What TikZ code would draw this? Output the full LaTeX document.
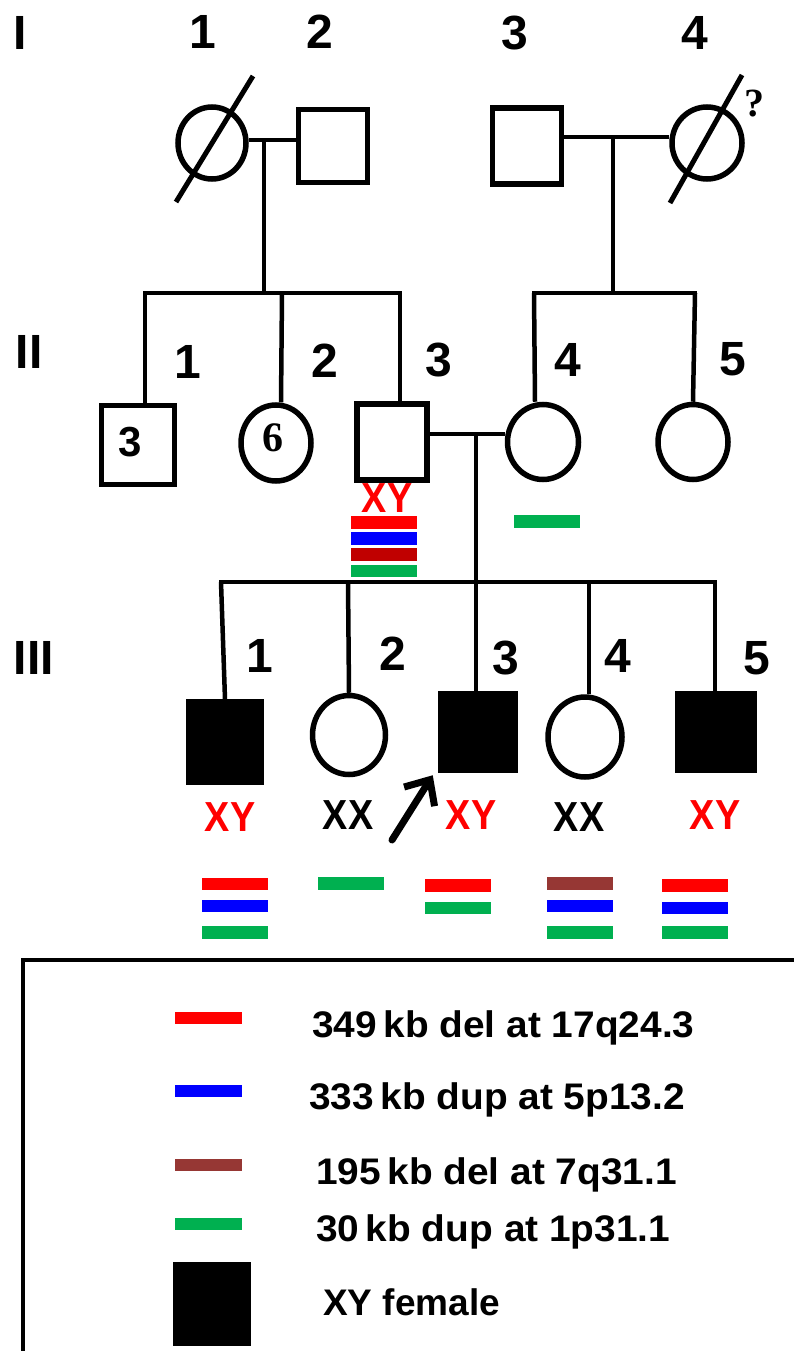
\documentclass[tikz,border=0pt]{standalone}
\usepackage{fontspec}
\setmainfont{Liberation Sans}
\newfontfamily\serifbold{Liberation Serif}
\usetikzlibrary{shapes.geometric,arrows.meta,calc}
\definecolor{cred}{RGB}{255,0,0}
\definecolor{cblue}{RGB}{0,0,255}
\definecolor{cdarkred}{RGB}{192,0,0}
\definecolor{cbrown}{RGB}{150,55,52}
\definecolor{cgreen}{RGB}{0,176,80}
\tikzset{
  pline/.style={line width=4.5pt},
  male/.style={draw, rectangle, line width=5.5pt, inner sep=0pt},
  female/.style={draw, ellipse, line width=5.5pt, inner sep=0pt},
  aff/.style={fill=black},
  num/.style={font=\fontsize{48}{50}\selectfont\bfseries, inner sep=0pt},
  kary/.style={font=\fontsize{42}{44}\selectfont\bfseries, inner sep=0pt},
  cnvbar/.style={draw=none, rectangle, minimum width=66pt, minimum height=12.5pt, inner sep=0pt},
  legtxt/.style={font=\fontsize{37}{40}\selectfont\bfseries, inner sep=0pt, anchor=base west},
  inlbl/.style={font=\fontsize{42}{44}\selectfont\bfseries, inner sep=0pt},
}
\newcommand{\kxy}[1]{\scalebox{0.9}[1]{#1}}
\newcommand{\lgw}[1]{\scalebox{1.05}[1]{#1}}
\begin{document}
\begin{tikzpicture}[x=1pt,y=-1pt]
\useasboundingbox (0,0) rectangle (794,1351);

% generation labels
\node[num] (gI) at (20,33) {I};
\node[num] (gII) at (29,352) {II};
\node[num] (gIII) at (34,658) {III};

% ---------- Generation I ----------
\node[female, minimum width=68pt, minimum height=72pt] (I1) at (212,143) {};
\node[male, minimum width=69pt, minimum height=73pt] (I2) at (333,146) {};
\node[male, minimum width=69pt, minimum height=76pt] (I3) at (527,146) {};
\node[female, minimum width=70pt, minimum height=72pt] (I4) at (707,143) {};
\draw[line width=5pt] ($(I1)+(-36,59)$) -- ($(I1)+(41,-67)$);
\draw[line width=5pt] ($(I4)+(-37,60)$) -- ($(I4)+(35,-68)$);
\node[font=\fontsize{40}{42}\selectfont\bfseries\serifbold, inner sep=0pt] (q4) at (754,104) {?};

\node[num] (nI1) at (203,32) {1};
\node[num] (nI2) at (320,32) {2};
\node[num] (nI3) at (515,33) {3};
\node[num] (nI4) at (695,33) {4};

% marriages gen I
\draw[pline] ([yshift=3pt]I1.east) -- ([yshift=3pt]I1.east -| I2.west);
\draw[pline] ([yshift=6pt]I4.west) -- ([yshift=6pt]I4.west -| I3.east);
\coordinate (m1) at (264,140);
\coordinate (s1) at (264,293);
\coordinate (m2) at (613,137);
\coordinate (s2) at (613,293);
\draw[pline] (m1) -- (s1);
\draw[pline] (m2) -- (s2);
\coordinate (s1L) at (145,293);
\coordinate (s1R) at (400,293);
\coordinate (s1M) at (282,293);
\coordinate (s2L) at (534,293);
\coordinate (s2R) at (695,293);
\draw[pline] ([xshift=-2pt]s1L) -- ([xshift=2pt]s1R);
\draw[pline] ([xshift=-2pt]s2L) -- ([xshift=2pt]s2R);

% ---------- Generation II ----------
\node[male, minimum width=73pt, minimum height=79pt] (II1) at (138,445) {};
\node[female, minimum width=70pt, minimum height=76pt] (II2) at (276,443) {};
\node[male, minimum width=70pt, minimum height=76pt] (II3) at (392,442) {};
\node[female, minimum width=71pt, minimum height=75pt] (II4) at (543,442) {};
\node[female, minimum width=70pt, minimum height=75pt] (II5) at (693,442) {};
\node[inlbl] (t3) at (130,442) {3};
\node[inlbl, font=\fontsize{42}{44}\selectfont\bfseries\serifbold] (t6) at (273,438) {6};

\draw[pline] (s1L) -- ([xshift=7pt]II1.north);
\draw[pline] (s1M) -- ([xshift=5pt]II2.north);
\draw[pline] (s1R) -- ([xshift=8pt]II3.north);
\draw[pline] (s2L) -- ([xshift=-8pt]II4.north);
\draw[pline] (s2R) -- (II5.north);

\node[num] (nII1) at (188,362) {1};
\node[num] (nII2) at (325,361) {2};
\node[num] (nII3) at (439,360) {3};
\node[num] (nII4) at (568,360) {4};
\node[num] (nII5) at (733,359) {5};

\draw[pline] ([yshift=8pt]II3.east) -- ([yshift=8pt]II3.east -| II4.west);
\coordinate (m3) at (476,434);
\coordinate (s3) at (476,582);
\draw[pline] (m3) -- (s3);

\node[kary, text=cred] (kII3) at (387,498) {\kxy{XY}};
\node[cnvbar, fill=cred] (bII3a) at (384,522.5) {};
\node[cnvbar, fill=cblue] (bII3b) at (384,538.5) {};
\node[cnvbar, fill=cdarkred] (bII3c) at (384,554.5) {};
\node[cnvbar, fill=cgreen] (bII3d) at (384,571) {};
\node[cnvbar, fill=cgreen] (bII4a) at (547,521.5) {};

% ---------- Generation III ----------
\coordinate (s3L) at (221,582);
\coordinate (s3B) at (348,582);
\coordinate (s3D) at (589,582);
\coordinate (s3R) at (715,582);
\draw[pline] ([xshift=-2pt]s3L) -- ([xshift=2pt]s3R);

\node[male, aff, minimum width=73pt, minimum height=80pt] (III1) at (225,742) {};
\node[female, minimum width=73pt, minimum height=79pt] (III2) at (349,735) {};
\node[male, aff, minimum width=75pt, minimum height=77pt] (III3) at (478,732) {};
\node[female, minimum width=74pt, minimum height=80pt] (III4) at (585,737) {};
\node[male, aff, minimum width=76pt, minimum height=77pt] (III5) at (716,732) {};

\draw[pline] (s3L) -- (III1.north);
\draw[pline] (s3B) -- (III2.north);
\draw[pline] (s3) -- ([xshift=-2pt]III3.north);
\draw[pline] (s3D) -- ([xshift=4pt]III4.north);
\draw[pline] (s3R) -- ([xshift=-1pt]III5.north);

\node[num] (nIII1) at (260,656) {1};
\node[num] (nIII2) at (393,654) {2};
\node[num] (nIII3) at (506,658) {3};
\node[num] (nIII4) at (618,656) {4};
\node[num] (nIII5) at (757,658) {5};

\node[kary, text=cred] (kIII1) at (230,817) {\kxy{XY}};
\node[kary] (kIII2) at (348,815) {\kxy{XX}};
\node[kary, text=cred] (kIII3) at (471,815) {\kxy{XY}};
\node[kary] (kIII4) at (579,817) {\kxy{XX}};
\node[kary, text=cred] (kIII5) at (715,815) {\kxy{XY}};

% proband arrow
\coordinate (atip) at ([xshift=-5pt,yshift=-2pt]III3.south west);
\coordinate (atail) at (392,840);
\draw[line width=7pt, line cap=round, -{Straight Barb[length=20pt,width=36pt,line cap=butt]}] (atail) -- (atip);

% CNV bars gen III
\node[cnvbar, fill=cred] (b11) at (235,884) {};
\node[cnvbar, fill=cblue] (b12) at (235,906) {};
\node[cnvbar, fill=cgreen] (b13) at (235,932.5) {};
\node[cnvbar, fill=cgreen] (b21) at (351,883.5) {};
\node[cnvbar, fill=cred] (b31) at (458,885.5) {};
\node[cnvbar, fill=cgreen] (b32) at (458,908) {};
\node[cnvbar, fill=cbrown] (b41) at (580,883.5) {};
\node[cnvbar, fill=cblue] (b42) at (580,906) {};
\node[cnvbar, fill=cgreen] (b43) at (580,932.5) {};
\node[cnvbar, fill=cred] (b51) at (695,885.5) {};
\node[cnvbar, fill=cblue] (b52) at (695,908) {};
\node[cnvbar, fill=cgreen] (b53) at (695,932.5) {};

% ---------- Legend ----------
\draw[line width=3.5pt] (794,960) -| (23,1351);
\node[cnvbar, minimum width=67pt, fill=cred] (L1) at (208.5,1018) {};
\node[cnvbar, minimum width=67pt, fill=cblue] (L2) at (208.5,1091) {};
\node[cnvbar, minimum width=67pt, fill=cbrown] (L3) at (208.5,1165) {};
\node[cnvbar, minimum width=67pt, fill=cgreen] (L4) at (208.5,1224) {};
\node[draw=none, fill=black, minimum width=78pt, minimum height=84pt, inner sep=0pt] (L5) at (212,1304) {};
\node[legtxt] (T1) at (312,1037) {\lgw{349\,kb del at 17q24.3}};
\node[legtxt] (T2) at (309,1109) {\lgw{333\,kb dup at 5p13.2}};
\node[legtxt] (T3) at (316,1184) {\lgw{195\,kb del at 7q31.1}};
\node[legtxt] (T4) at (316,1241) {\lgw{30\,kb dup at 1p31.1}};
\node[legtxt] (T5) at (323,1315) {XY female};
\end{tikzpicture}
\end{document}
